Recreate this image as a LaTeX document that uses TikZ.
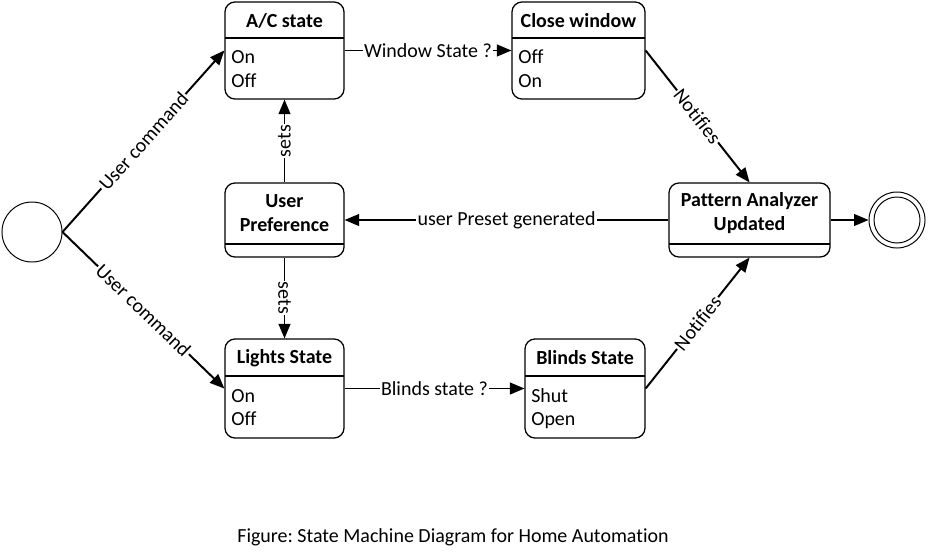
\documentclass[tikz,border=0pt]{standalone}
\usepackage{fontspec}
\setmainfont{Carlito}[Ligatures=NoCommon]
\frenchspacing
\usetikzlibrary{arrows}

\begin{document}
\begin{tikzpicture}[x=0.025cm,y=-0.025cm,font=\fontsize{14.2}{17}\selectfont,
  state/.style={draw,line width=0.9pt,rounded corners=0.25cm,inner sep=0pt},
  title/.style={font=\fontsize{14.2}{17}\selectfont\bfseries,align=center},
  item/.style={anchor=base west,inner sep=0pt},
  trans/.style={line width=1.4pt,-triangle 45},
  lbl/.style={midway,fill=white,inner sep=1pt}]
\useasboundingbox (0,0) rectangle (931,559);
% start and end
\node[circle,draw,line width=0.7pt,minimum size=1.5cm] (init) at (32,232) {};
\node[circle,draw,line width=0.7pt,minimum size=1.4cm] (final) at (897,220) {};
\node[circle,draw,line width=0.7pt,minimum size=1.15cm] (finalin) at (897,220) {};
% states
\node[state,minimum width=2.975cm,minimum height=2.425cm] (ac) at (284.5,50.5) {};
\draw[line width=0.9pt] (225,38) -- (344,38);
\node[title] (actitle) at (284.5,21) {A/C state};
\node[item] (acon) at (231,63) {On};
\node[item] (acoff) at (231,87) {Off};

\node[state,minimum width=3.325cm,minimum height=2.425cm] (close) at (578.5,50.5) {};
\draw[line width=0.9pt] (512,38) -- (645,38);
\node[title] (closetitle) at (578.5,21) {Close window};
\node[item] (closeoff) at (518,63) {Off};
\node[item] (closeon) at (518,87) {On};

\node[state,minimum width=2.975cm,minimum height=1.85cm] (pref) at (284.5,220) {};
\draw[line width=0.9pt] (225,244) -- (344,244);
\node[title] (preftitle) at (284.5,213) {User\\Preference};

\node[state,minimum width=4.025cm,minimum height=1.85cm] (pattern) at (749.5,220) {};
\draw[line width=0.9pt] (669,244) -- (830,244);
\node[title] (patterntitle) at (749.5,213) {Pattern Analyzer\\Updated};

\node[state,minimum width=2.975cm,minimum height=2.475cm] (lights) at (284.5,388.5) {};
\draw[line width=0.9pt] (225,376) -- (344,376);
\node[title] (lightstitle) at (284.5,358) {Lights State};
\node[item] (lightson) at (231,402) {On};
\node[item] (lightsoff) at (231,425) {Off};

\node[state,minimum width=3cm,minimum height=2.475cm] (blinds) at (585,388.5) {};
\draw[line width=0.9pt] (525,376) -- (645,376);
\node[title] (blindstitle) at (585,358) {Blinds State};
\node[item] (blindsshut) at (531,402) {Shut};
\node[item] (blindsopen) at (531,425) {Open};

% transitions
\draw[trans] (init.east) -- node[lbl,sloped] {User command} (ac.west);
\draw[trans] (init.east) -- node[lbl,sloped] {User command} (lights.west);
\draw[trans] (ac.east) -- node[lbl] {Window State ?} (close.west);
\draw[trans] (lights.east) -- node[lbl] {Blinds state ?} (blinds.west);
\draw[trans] (close.east) -- node[lbl,sloped] {Notifies} (pattern.north);
\draw[trans] (blinds.east) -- node[lbl,sloped] {Notifies} (pattern.south);
\draw[trans] (pattern.west) -- node[lbl] {user Preset generated} (pref.east);
\draw[trans] (pattern.east) -- (final.west);
\draw[trans] (pref.north) -- node[lbl,rotate=90] {sets} (ac.south);
\draw[trans] (pref.south) -- node[lbl,rotate=-90] {sets} (lights.north);

\node (caption) at (453,537) {Figure: State Machine Diagram for Home Automation};
\end{tikzpicture}
\end{document}
